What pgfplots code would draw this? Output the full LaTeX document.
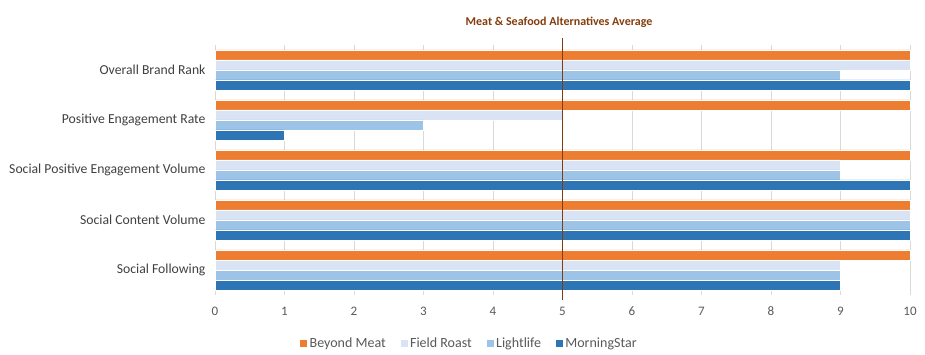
\documentclass[border=0pt]{standalone}
\usepackage{pgfplots}
\pgfplotsset{compat=1.18}
\usepackage{fontspec}
\setmainfont{Carlito}
\definecolor{bm}{HTML}{ED7D31}
\definecolor{fr}{HTML}{DAE3F3}
\definecolor{ll}{HTML}{9DC3E6}
\definecolor{ms}{HTML}{2E75B6}
\definecolor{avg}{HTML}{843C0C}
\definecolor{gridc}{HTML}{D9D9D9}
\definecolor{lbl}{HTML}{404040}
\definecolor{tickc}{HTML}{595959}
\begin{document}
\begin{tikzpicture}
\useasboundingbox (0pt,0pt) rectangle (925pt,355pt);
\begin{axis}[
 at={(215pt,60pt)}, anchor=south west,
 scale only axis, width=695pt, height=250pt,
 xbar=0pt, bar width=0.2,
 xmin=0, xmax=10, ymin=-0.5, ymax=4.5, y dir=reverse,
 ytick={0,1,2,3,4},
 yticklabels={Overall Brand Rank, Positive Engagement Rate, Social Positive Engagement Volume, Social Content Volume, Social Following},
 xtick={0,1,2,3,4,5,6,7,8,9,10},
 xmajorgrids, grid style={gridc, line width=0.8pt},
 axis line style={draw=none}, major tick length=0pt,
 clip=false,
 /pgf/number format/assume math mode=true,
 xticklabel style={font=\fontsize{13}{15}\selectfont, text=tickc, yshift=-8.5pt},
 yticklabel style={font=\fontsize{13.7}{16}\selectfont, text=lbl, xshift=-6pt},
 legend style={at={(0.3655,-0.192)}, anchor=center, legend columns=-1, draw=none, fill=none,
   font=\fontsize{14}{16}\selectfont, text=tickc, inner sep=0pt,
   /tikz/every even column/.append style={column sep=12pt}},
 legend image code/.code={\fill[#1] (0pt,-4pt) rectangle (8pt,4pt);},
]
\addplot[fill=bm, draw=white, line width=0.3pt, bar shift=-0.3] coordinates {(10,0) (10,1) (10,2) (10,3) (10,4)};
\addplot[fill=fr, draw=white, line width=0.3pt, bar shift=-0.1] coordinates {(10,0) (5,1) (9,2) (10,3) (9,4)};
\addplot[fill=ll, draw=white, line width=0.3pt, bar shift=0.1] coordinates {(9,0) (3,1) (9,2) (10,3) (9,4)};
\addplot[fill=ms, draw=white, line width=0.3pt, bar shift=0.3] coordinates {(10,0) (1,1) (10,2) (10,3) (9,4)};
\legend{Beyond Meat, Field Roast, Lightlife, MorningStar}
\addplot[avg, line width=1pt, forget plot, sharp plot] coordinates {(5,-0.64) (5,4.6)};
\end{axis}
\node[font=\bfseries\fontsize{12}{14}\selectfont, text=avg] at (559pt,333pt) {Meat \& Seafood Alternatives Average};
\end{tikzpicture}
\end{document}
